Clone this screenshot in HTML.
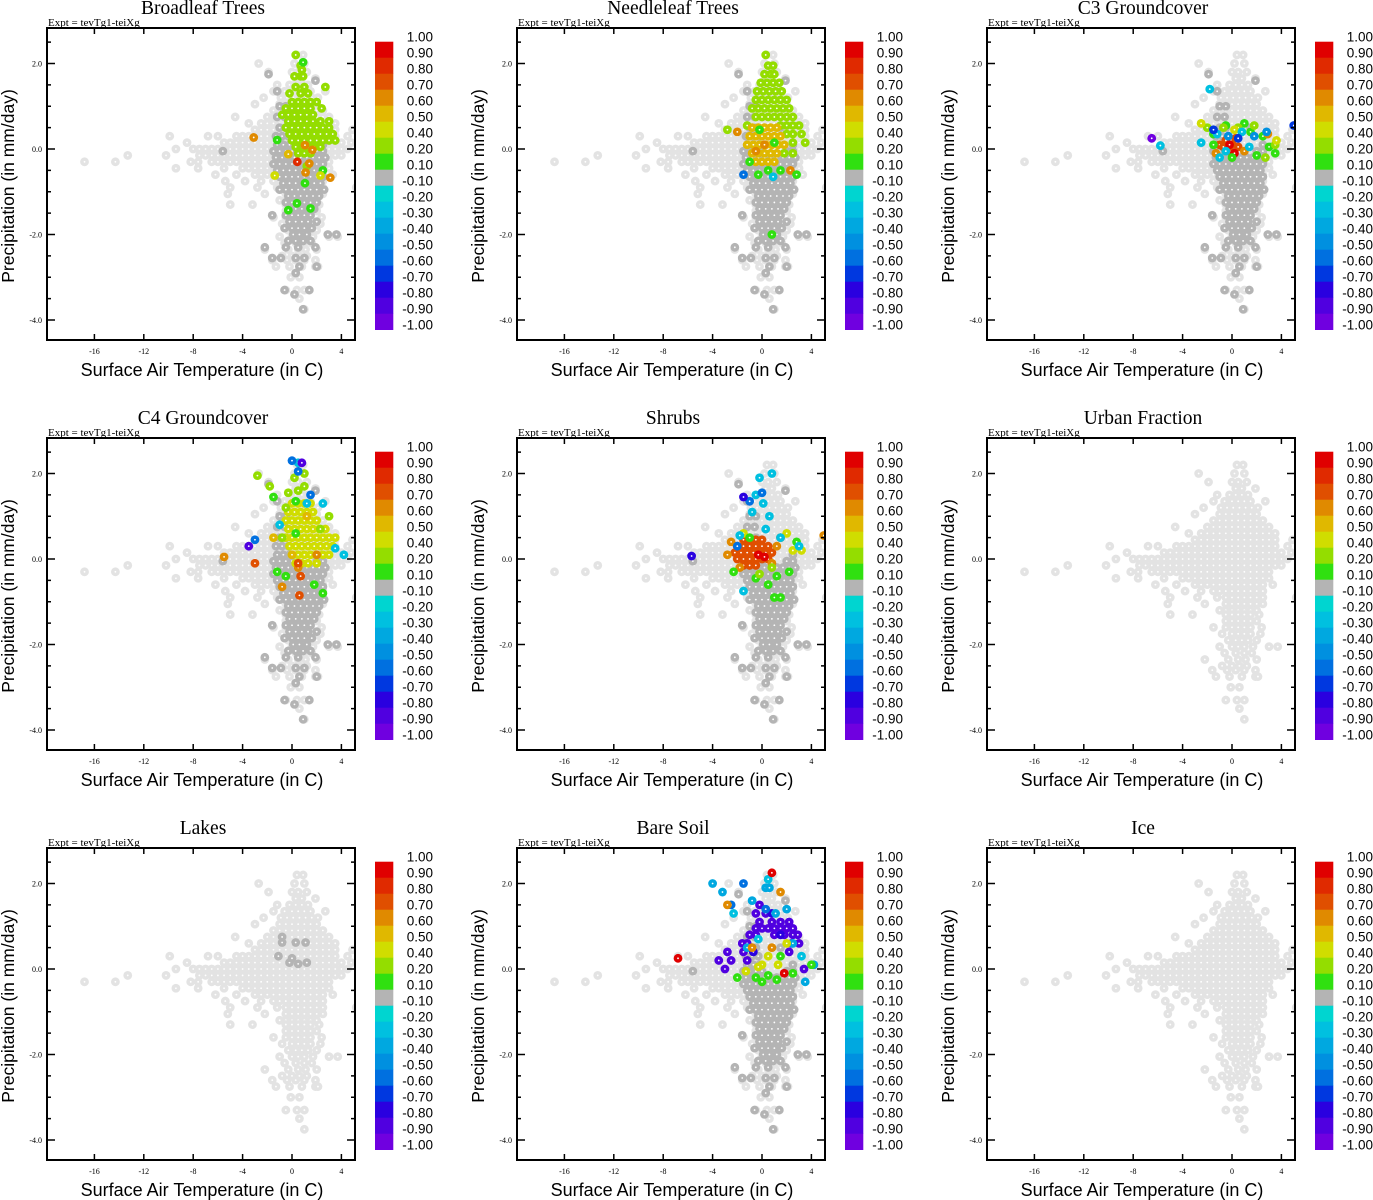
<!DOCTYPE html>
<html><head><meta charset="utf-8"><style>
html,body{margin:0;padding:0;background:#fff;}
svg{display:block;}
</style></head><body>
<svg id="fig" width="1373" height="1200" viewBox="0 0 1373 1200" xmlns="http://www.w3.org/2000/svg"></svg>
<script>
// ---- shared background cloud (light gray), rows of precip with temperature values ----
const lightRowsP = [2.2,2.0,1.8,1.65,1.5,1.35,1.2,1.05,0.9,0.75,0.6,0.45,0.3,0.15,0.0,-0.15,-0.3,-0.45,-0.6,-0.75,-0.9,-1.05,-1.2,-1.3,-1.45,-1.6,-1.75,-1.9,-2.05,-2.2,-2.35,-2.5,-2.6,-2.75,-3.0,-3.3,-3.5,-3.75];
const lightRowsT = [
 [0.4,0.9],[-2.7,0.2,1.0],[-1.9,0,0.5,1.2],[0.3,0.8,1.9],[-1.2,-0.2,0.3,0.8,1.3],
 [-1.5,-0.6,0,0.5,1.0,1.5,2.7],[-2.3,-0.9,-0.4,0.1,0.6,1.1,1.6,2.1],[-3.0,-1.0,-0.5,0,0.5,1.0,1.5,2.0],
 [-1.5,-1.0,-0.5,0,0.5,1.0,1.5,2.0,2.5],[-4.6,-2.0,-1.5,-1,-0.5,0,0.5,1,1.5,2,2.5,3],
 [-3.5,-2.5,-2,-1.5,-1,-0.5,0,0.5,1,1.5,2,2.5,3,3.5],[-3,-2.5,-2,-1.5,-1,-0.5,0,0.5,1,1.5,2,2.5,3,3.5,4.9],
 [-9.9,-6.8,-6,-4.5,-4,-3.5,-3,-2.5,-2,-1.5,-1,-0.5,0,0.5,1,1.5,2,2.5,3,3.5,4.5],
 [-8.5,-5.5,-5,-4.5,-4,-3.5,-3,-2.5,-2,-1.5,-1,-0.5,0,0.5,1,1.5,2,2.5,3,3.5,4,4.8],
 [-9.4,-8,-7.5,-7,-6.5,-6,-5.5,-5,-4.5,-4,-3.5,-3,-2.5,-2,-1.5,-1,-0.5,0,0.5,1,1.5,2,2.5,3,3.5,4,4.5],
 [-13.3,-10.2,-7.5,-7,-6.5,-6,-5.5,-5,-4.5,-4,-3.5,-3,-2.5,-2,-1.5,-1,-0.5,0,0.5,1,1.5,2,2.5,3,3.5,4],
 [-16.8,-14.3,-8.2,-7.6,-6.5,-6,-5.5,-5,-4.5,-4,-3.5,-3,-2.5,-2,-1.5,-1,-0.5,0,0.5,1,1.5,2,2.5,3],
 [-9.4,-7.6,-5.5,-4,-3.5,-3,-2.5,-2,-1.5,-1,-0.5,0,0.5,1,1.5,2,2.5,3],
 [-6.2,-4.5,-3,-2.5,-2,-1.5,-1,-0.5,0,0.5,1,1.5,2,2.5,3.3],
 [-5.4,-3.8,-2.5,-1.5,-1,-0.5,0,0.5,1,1.5,2,2.5],
 [-5.0,-2.8,-1.2,-0.5,0,0.5,1,1.5,2,2.5,5.2],[-5.2,-2.2,-0.5,0,0.5,1,1.5,2,2.5],
 [-1,-0.5,0,0.5,1,1.5,2],[-5.0,-3.2,-0.5,0,0.5,1,1.5,2.2],[-0.5,0,0.5,1,1.5,2],
 [-1.5,-0.5,0,0.5,1,1.5,2.4],[-0.8,0,0.5,1,1.5,2.3],[-0.3,0.3,0.8,1.3,2.0],
 [-1,0,0.5,1,1.7,3.0,3.7],[-0.6,0.3,1.0,1.6],[-2.2,-0.3,0.5,1.1,2.0],[-0.8,0,0.6,1.2],
 [-1.6,-0.4,0.3,1.0,1.9],[-1.3,-0.2,0.8,1.9,2.1],[-0.1,0.6],[-0.5,0.4,1.0],[0.6],[1.0]
];
// ---- dark gray cloud (weak correlation points) ----
const darkRowsP = [1.75,1.6,1.35,1.0,0.75,0.5,0.3,0.1,-0.05,-0.2,-0.35,-0.5,-0.65,-0.8,-0.95,-1.1,-1.25,-1.4,-1.55,-1.7,-1.85,-2.0,-2.15,-2.3,-2.55,-2.75,-2.9,-3.3,-3.4,-3.75];
const darkRowsT = [
 [-1.9],[1.9],[-1.2],[-1.0,-0.5],[-1.2,-0.6],[-1.0,-0.5,1.5],[-1.3,-0.8,-0.3],[-1.2,-0.7,-0.2,2.5],
 [-5.6,-1.5,-1,-0.5,0,2.0,2.5],[-1.3,-0.8,-0.3,0.2,0.7,1.2,1.7,2.2,2.7],[-1.5,-1,-0.5,0,0.5,1,1.5,2,2.5],
 [-1.2,-0.7,-0.2,0.3,0.8,1.3,1.8,2.3],[-1,-0.5,0,0.5,1,1.5,2,2.5],[-0.7,-0.2,0.3,0.8,1.3,1.8,2.3],
 [-1.0,-0.5,0,0.5,1,1.5,2,2.6],[-0.3,0.2,0.7,1.2,1.7,2.2],[-0.5,0,0.5,1,1.5,2],[-0.2,0.3,0.8,1.3,1.8],
 [-1.6,-0.5,0,0.5,1,1.5],[-0.2,0.3,0.8,1.3,2.0],[-0.6,0,0.5,1.0,1.6],[0.1,0.6,1.2,2.9,3.6],
 [-0.3,0.3,0.9,1.5],[-2.2,-0.5,0.5,1.9],[-1.6,-0.9,0.3,1.0],[0.6,2.0],[0.3],[-0.6,1.4],[0.2],[0.9]
];
// ---- colour bar ----
const cbLabels = ["1.00","0.90","0.80","0.70","0.60","0.50","0.40","0.20","0.10","-0.10","-0.20","-0.30","-0.40","-0.50","-0.60","-0.70","-0.80","-0.90","-1.00"];
const cbEdges = [1,0.9,0.8,0.7,0.6,0.5,0.4,0.2,0.1,-0.1,-0.2,-0.3,-0.4,-0.5,-0.6,-0.7,-0.8,-0.9,-1.0];
const cbColors = ["#e00000","#e02a00","#e04f00","#e08a00","#e0b800","#d0dd00","#94dd00","#30e010","#b4b4b4","#00d5d0","#00c0e0","#00a8e0","#0090e0","#0070e0","#0038e0","#2a00e0","#5000e0","#7000e0"];
const xTicks = [-16,-12,-8,-4,0,4];
const yTicks = [2,0,-2,-4];
const yTickLabels = ["2.0","0.0","-2.0","-4.0"];
const panelTitles = ["Broadleaf Trees","Needleleaf Trees","C3 Groundcover","C4 Groundcover","Shrubs","Urban Fraction","Lakes","Bare Soil","Ice"];
const panelHasDark = [true,true,true,true,true,false,false,true,false];
// ---- coloured points per panel: rows [precip, value, [temps]] ----
const broadleafRows = [
 [2.2,0.3,[0.3]],[1.95,0.3,[0.7]],[1.85,0.3,[0.8]],[1.7,0.3,[0.2,0.7,0.9]],[1.45,0.3,[0.3,1.0,2.7]],[1.3,0.3,[-0.2,0.7,1.3]],
 [1.1,0.3,[0,0.5,1,1.5,2]],[0.95,0.3,[-0.5,0,0.5,1,1.5,2.4]],[0.8,0.3,[-0.8,-0.3,0.2,0.7,1.2,1.7]],
 [0.65,0.3,[-0.3,0.2,0.7,1.2,1.7,2.3,3]],[0.5,0.3,[-0.5,0,0.5,1,1.5,2,2.5,3]],[0.35,0.3,[-0.2,0.3,0.8,1.3,1.8,2.3,2.8,3.3]],
 [0.2,0.3,[0,0.5,1,1.5,2,2.5,3,3.5]],[0.05,0.3,[0.3,0.8,1.3,1.8,2.3]],[-0.1,0.3,[0.5,1,1.5]],[-0.4,0.3,[1.2]],
 [2.03,0.15,[0.9]],[0.21,0.15,[-1.2]],[-0.5,0.15,[2.5]],[-0.8,0.15,[1.05]],[-1.27,0.15,[0.4]],[-1.39,0.15,[1.5]],[-1.43,0.15,[-0.3]],
 [-0.12,0.55,[-0.3]],[-0.62,0.45,[-1.4,2.3]],
 [0.27,0.65,[-3.1]],[0.09,0.65,[1.05]],[-0.02,0.65,[1.65]],[-0.34,0.65,[1.4]],[-0.55,0.65,[1.1]],[-0.67,0.65,[3.1]],
 [-0.3,0.8,[0.43]]
];
const needleleafRows = [
 [2.2,0.3,[0.3]],[1.95,0.3,[0.5,0.9]],[1.75,0.3,[0.2,0.7,1.0]],[1.55,0.3,[-0.1,0.4,0.9,1.4]],[1.35,0.3,[-0.4,0.1,0.6,1.1,1.6]],
 [1.15,0.3,[-0.5,0,0.5,1,1.5,2.0]],[0.95,0.3,[-0.8,-0.3,0.2,0.7,1.2,1.7,2.2]],[0.75,0.3,[-0.5,0,0.5,1,1.5,2,2.5]],
 [0.55,0.3,[-1.2,1.5,2,2.5,3]],[0.35,0.3,[2,2.5,3.2]],[0.15,0.3,[2.5,3.5]],[0.45,0.3,[-2.8]],[-0.1,0.3,[1.8,2.5]],
 [0.5,0.55,[-0.8,-0.3,0.2,0.7,1.2]],[0.3,0.55,[-1,-0.5,0,0.5,1,1.5]],[0.1,0.55,[-1.2,-0.7,-0.2,0.3,0.8,1.3,1.8]],
 [-0.1,0.55,[-0.8,-0.3,0.2,0.7,1.2]],[-0.3,0.55,[-0.5,0,0.5,1.0]],
 [0.1,0.65,[0.2]],[-0.05,0.65,[-0.5]],[-0.5,0.65,[2.3]],[0.4,0.65,[-2]],
 [-0.6,0.15,[-0.3,2.8]],[-0.5,0.15,[0.5,1.5]],[-0.3,0.15,[-1.0]],[-2.0,0.15,[0.8]],[0.45,0.15,[-0.2]],[0.15,0.15,[1.0]],
 [-0.6,-0.6,[-1.5]],[-0.65,-0.3,[0.9]]
];
const c3Rows = [
 [0.1,0.75,[0,-1]],[0.2,0.75,[-0.5]],[0.05,0.75,[0.5,-0.7]],[-0.05,0.75,[-0.2]],[0.25,0.75,[0.3]],
 [0.1,0.95,[-0.2]],[-0.1,0.95,[0.2]],
 [0.35,0.15,[-1.5]],[0.4,0.15,[1.5]],[0.3,0.15,[2.5]],[0.05,0.15,[3]],[0.6,0.15,[1]],[0.55,0.15,[-0.5]],[-0.15,0.15,[2]],[-0.2,0.15,[0]],[0.1,0.15,[-1.5]],[-0.1,0.15,[3.5]],
 [0.5,0.3,[-2]],[0.55,0.3,[1.8]],[0.1,0.3,[3.5]],[0.5,0.3,[-0.7,0.5]],[-0.2,0.3,[2.7]],
 [0.6,0.45,[-2.5]],[0.45,0.45,[0.2]],[0.2,0.45,[3.6]],
 [-0.05,0.65,[1.0]],[-0.1,0.65,[-1.3]],[0.35,0.65,[2.9]],
 [0.08,-0.3,[-5.8]],[-0.2,-0.3,[-1]],[-0.05,-0.3,[-0.5]],[0.05,-0.3,[1.4]],[1.4,-0.3,[-1.8]],[0.15,-0.3,[-2.5]],[0.4,-0.3,[0.8]],[0.35,-0.3,[-1.2]],
 [0.4,-0.45,[2.8]],[0.3,-0.45,[1.8,-0.3]],
 [0.55,-0.65,[5]],[0.45,-0.65,[-1.5]],[0.25,-0.65,[0.5]],
 [0.25,-0.95,[-6.5]]
];
const c4Rows = [
 [1.3,0.45,[0,0.5,1,1.5]],[1.1,0.45,[-0.3,0.2,0.7,1.2,1.7]],[0.9,0.45,[-0.5,0,0.5,1,1.5,2]],[0.7,0.45,[-0.3,0.2,0.7,1.2,1.7,2.2,2.7]],
 [0.5,0.45,[-0.5,0,0.5,1,1.5,2,2.5,3,3.5]],[0.3,0.45,[-0.2,0.3,0.8,1.3,1.8,2.3,2.8,3.3]],[0.1,0.45,[0,0.5,1,1.5,2,2.5,3]],[-0.1,0.45,[0.3,0.8,1.3,2.0]],
 [1.95,0.3,[-2.8]],[1.7,0.3,[-1.8,1.0]],[1.9,0.3,[0.2]],[1.6,0.3,[0.5]],[1.55,0.3,[-0.3]],[0.5,0.3,[-0.8]],[0.7,0.3,[2.3]],[1.0,0.3,[3]],[2.0,0.3,[1.0]],[1.2,0.3,[-0.5]],
 [1.45,0.15,[-1.5]],[1.35,0.15,[0.3]],[-0.3,0.15,[-1.2]],[-0.6,0.15,[1.8]],[-0.8,0.15,[2.5]],[0.6,0.15,[0.3]],[-0.4,0.15,[-0.5]],
 [0.5,0.55,[-1.5]],[0.1,0.55,[0]],[1.0,0.55,[1.2]],
 [0.05,0.65,[-5.5]],[-0.2,0.65,[0.5]],[-0.65,0.65,[-0.8]],[0.1,0.65,[2]],
 [-0.4,0.75,[0.7]],[-0.85,0.75,[0.6]],[-0.1,0.75,[-3,0.5]],
 [1.3,-0.3,[2.5]],[0.8,-0.3,[-1]],[0.1,-0.3,[4.2]],[0.25,-0.3,[3.5]],[2.25,-0.3,[0.5]],[1.3,-0.3,[1.2]],
 [0.45,-0.6,[-3]],[1.5,-0.6,[1.5]],[2.05,-0.6,[0.5]],[2.3,-0.6,[0]],
 [2.25,-0.85,[0.8]],[0.3,-0.85,[-3.5]]
];
const shrubsRows = [
 [0.45,0.75,[-1.5,-1,-0.5,0]],[0.3,0.75,[-2,-1.5,-1,-0.5,0,0.5]],[0.15,0.75,[-2.2,-1.7,-1.2,-0.7,-0.2,0.3,0.8]],
 [0.0,0.75,[-2,-1.5,-1,-0.5,0,0.5]],[-0.15,0.75,[-1.5,-1,-0.5]],
 [0.1,0.9,[-0.3]],[0.05,0.9,[0.2]],
 [0.4,0.65,[-2.5]],[0.3,0.65,[1.2]],[0.5,0.65,[1.5]],[0.1,0.65,[-2.8]],[0.55,0.65,[5]],[-0.1,0.65,[0.8]],[-0.2,0.65,[-1.8]],
 [0.2,0.45,[2.5,3.2]],[0.6,0.45,[-1.5,2]],
 [0.5,0.15,[-1]],[-0.6,0.15,[0.5]],[-0.4,0.15,[1.2]],[-0.3,0.15,[2.2]],[-0.45,0.15,[-0.5]],[-0.9,0.15,[1,1.5]],[-0.3,0.15,[-2.3]],[0.4,0.15,[2.8]],
 [-0.2,0.3,[0.8]],[-0.35,0.3,[-0.2]],
 [2.0,-0.3,[0.8]],[1.9,-0.3,[-0.2]],[1.5,-0.3,[-0.5]],[1.3,-0.3,[0.1]],[1.1,-0.3,[-0.8]],[1.0,-0.3,[0.6]],[0.5,-0.3,[1.5]],[0.55,-0.3,[-1.8]],[-0.75,-0.3,[-1.5]],[0.7,-0.3,[0.3]],[0.3,-0.3,[3]],
 [0.3,-0.55,[-2.0]],[1.35,-0.55,[-1]],[1.55,-0.55,[0]],
 [0.07,-0.75,[-5.7]],[1.45,-0.75,[-1.5]]
];
const urbanRows = [];
const lakesRows = [
 [0.75,0,[-0.8]],[0.62,0,[-0.8,0.3,1.1]],[0.15,0,[-0.2,1.2]],[0.12,0,[0.5]],[0.25,0,[0]],[0.3,0,[-1.1]]
];
const baresoilRows = [
 [1.5,-0.9,[-0.2]],[1.3,-0.9,[-0.5,0.3]],[1.1,-0.9,[-0.2,0.8,1.5,2.2]],[0.95,-0.9,[-0.5,0,0.5,1,1.5,2,2.5]],
 [0.8,-0.9,[-1,-0.5,1,1.8,2.5,2.9]],[0.6,-0.9,[-1.6,-1.2,2.4,3]],[0.4,-0.9,[-2.8,-1.5,2.2]],[0.2,-0.9,[-3.5,-2.5,-1.2]],[0.0,-0.9,[-3,3.4]],
 [1.3,-0.8,[0.8]],[0.8,-0.8,[1.5]],[0.4,-0.8,[-0.7]],
 [2.0,-0.4,[-4]],[1.8,-0.4,[-3.2]],[1.9,-0.4,[0.3,0.6]],[1.6,-0.4,[-0.8]],[1.3,-0.4,[1.1]],[0.6,-0.4,[2.5]],[-0.3,-0.4,[3.5]],[0.1,-0.4,[4.2]],[0.5,-0.4,[-1.2]],[1.4,-0.4,[2]],
 [2.1,-0.25,[0.5]],[1.3,-0.25,[-2.3]],[0.7,-0.25,[-0.3]],[0.3,-0.25,[3.2]],
 [1.5,-0.6,[-2.5]],[2.0,-0.6,[-1.5]],[1.4,-0.6,[0.3]],
 [-0.2,0.15,[-2,-0.5]],[-0.3,0.15,[0]],[-0.15,0.15,[0.5]],[-0.25,0.15,[1.2]],[-0.1,0.15,[2.5]],[0.3,0.15,[1.5]],[0.1,0.15,[4]],
 [0.1,0.45,[0]],[0.05,0.45,[-0.3]],[0.3,0.45,[0.5]],[0.1,0.45,[1.3]],[-0.05,0.45,[-1.3]],[0.6,0.45,[2]],
 [0.5,0.65,[-0.8,0.8]],[1.8,0.65,[1.5]],[1.5,0.65,[-2.8]],
 [0.25,0.9,[-6.8]],[2.25,0.9,[0.8]],[-0.1,0.9,[1.8]]
];
const iceRows = [];
const panelRows = [broadleafRows,needleleafRows,c3Rows,c4Rows,shrubsRows,urbanRows,lakesRows,baresoilRows,iceRows];

// ---- drawing ----
const NS = "http://www.w3.org/2000/svg";
const svg = document.getElementById("fig");
const X0 = 47, X1 = 355, Y0 = 28, Y1 = 340;
function sx(t){ return 292 + 12.35*t; }
function sy(p){ return 149 - 42.75*p; }
function mk(tag, attrs, parent){
  const e = document.createElementNS(NS, tag);
  for (const k in attrs) e.setAttribute(k, attrs[k]);
  parent.appendChild(e);
  return e;
}
function colorFor(v){
  for (let i=0;i<18;i++){ if (v <= cbEdges[i] && v >= cbEdges[i+1]) return cbColors[i]; }
  return cbColors[8];
}
function dot(g, t, p, col){
  const c = mk("circle", {cx: sx(t), cy: sy(p), r: 4.4, fill: col}, g);
  
  
  mk("circle", {cx: sx(t), cy: sy(p), r: 0.9, fill: "#fff"}, g);
}
for (let k=0;k<9;k++){
  const ox = (k%3)*470, oy = Math.floor(k/3)*410;
  const g = mk("g", {transform: `translate(${ox},${oy})`}, svg);
  
  
  const clipId = "clip"+k;
  const cp = mk("clipPath", {id: clipId}, g);
  mk("rect", {x: X0, y: Y0, width: X1-X0, height: Y1-Y0}, cp);
  const pts = mk("g", {"clip-path": `url(#${clipId})`}, g);
  
  
  lightRowsP.forEach((p,i)=> lightRowsT[i].forEach(t=> dot(pts, t, p, "#e3e3e3")));
  if (panelHasDark[k]) darkRowsP.forEach((p,i)=> darkRowsT[i].forEach(t=> dot(pts, t, p, "#b4b4b4")));
  panelRows[k].forEach(r=> r[2].forEach(t=> dot(pts, t, r[0], r[1]===0 ? "#b4b4b4" : colorFor(r[1]))));
  // frame
  const fr = mk("rect", {x: X0, y: Y0, width: X1-X0, height: Y1-Y0, fill: "none", stroke: "#000", "stroke-width": 2}, g);
  
  
  // x ticks
  xTicks.forEach(t=>{
    const x = sx(t);
    mk("line", {x1:x, y1:Y1, x2:x, y2:Y1-6, stroke:"#000", "stroke-width":1.5}, g);
    mk("line", {x1:x, y1:Y0, x2:x, y2:Y0+6, stroke:"#000", "stroke-width":1.5}, g);
    const tx = mk("text", {x:x, y:Y1+14, "text-anchor":"middle", "font-family":"Liberation Serif, serif", "font-size":8}, g);
    tx.textContent = String(t);
    
    
  });
  // y ticks (minor every 0.5, major at labels)
  for (let q=-8; q<=5; q++){
    const p = q*0.5; const y = sy(p);
    if (y < Y0 || y > Y1) continue;
    const len = (q%4===0) ? 8 : 4;
    mk("line", {x1:X0, y1:y, x2:X0+len, y2:y, stroke:"#000", "stroke-width":1.5}, g);
    mk("line", {x1:X1, y1:y, x2:X1-len, y2:y, stroke:"#000", "stroke-width":1.5}, g);
  }
  yTicks.forEach((p,i)=>{
    const ty = mk("text", {x:42, y:sy(p)+3, "text-anchor":"end", "font-family":"Liberation Serif, serif", "font-size":8}, g);
    ty.textContent = yTickLabels[i];
    
    
  });
  const ti = mk("text", {x:203, y:14, "text-anchor":"middle", "font-family":"Liberation Serif, serif", "font-size":19.5}, g);
  ti.textContent = panelTitles[k];
  
  
  const ex = mk("text", {x:48, y:26, "font-family":"Liberation Serif, serif", "font-size":11}, g);
  ex.textContent = "Expt = tevTg1-teiXg";
  
  
  const xt = mk("text", {x:202, y:376, "text-anchor":"middle", "font-family":"Liberation Sans, sans-serif", "font-size":18}, g);
  xt.textContent = "Surface Air Temperature (in C)";
  
  
  const yt = mk("text", {x:0, y:0, "text-anchor":"middle", "font-family":"Liberation Sans, sans-serif", "font-size":17.5, transform:"translate(14,186) rotate(-90)"}, g);
  yt.textContent = "Precipitation (in mm/day)";
  
  
  // colour bar
  const cb = mk("g", {}, g);
  
  
  cbColors.forEach((c,i)=>{
    const r = mk("rect", {x:375, y:41.7+16*i, width:18.3, height:16.3, fill:c}, cb);
    
    
  });
  cbLabels.forEach((s,i)=>{
    const tl = mk("text", {x:433, y:36.7+16*i+5, "text-anchor":"end", "font-family":"Liberation Sans, sans-serif", "font-size":13.5}, cb);
    tl.textContent = s;
    
    
  });
}
</script>
</body></html>
